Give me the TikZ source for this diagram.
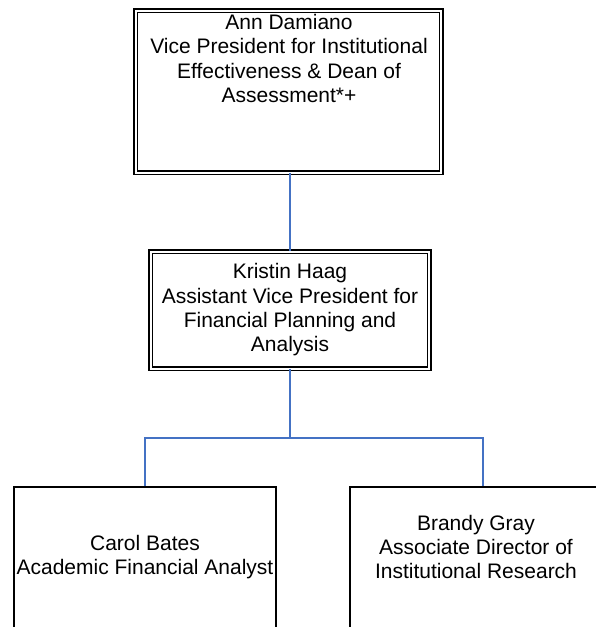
\documentclass[tikz,border=0pt]{standalone}
\usepackage{fontspec}
\setmainfont{Liberation Sans}
\definecolor{linkblue}{HTML}{4472C4}
\begin{document}
\begin{tikzpicture}[x=1pt,y=-1pt,
  dbox/.style={draw=black, line width=1.5pt, double=white, double distance=2pt, inner sep=0pt, minimum width=#1},
  sbox/.style={draw=black, line width=2pt, inner sep=0pt},
  lbl/.style={align=center, inner sep=0pt, font=\fontsize{21}{24.3}\selectfont},
  link/.style={draw=linkblue, line width=1.3pt}]
\useasboundingbox (0,0) rectangle (596,627);
\clip (0,0) rectangle (596,627);
\fill[white] (0,0) rectangle (596,627);
% boxes
\node[dbox=305.5pt, minimum height=162pt] (top) at (288.5,91.5) {};
\node[dbox=278.5pt, minimum height=117pt] (mid) at (290,310) {};
\node[sbox, minimum width=262pt, minimum height=173pt] (left) at (145,573.5) {};
\node[sbox, minimum width=266pt, minimum height=173pt] (right) at (483,573.5) {};
% texts
\node[lbl] (toptext) at (289,58.5) {Ann Damiano\\Vice President for Institutional\\Effectiveness \& Dean of\\Assessment*+};
\node[lbl] (midtext) at (290,310) {Kristin Haag\\Assistant Vice President for\\Financial Planning and\\Analysis};
\node[lbl] (lefttext) at (145,557) {Carol Bates\\Academic Financial Analyst};
\node[lbl] (righttext) at (476,547) {Brandy Gray\\Associate Director of\\Institutional Research};
% connectors
\coordinate (j) at (290,438);
\draw[link] (mid.north |- top.south) -- (mid.north);
\draw[link] (mid.south) -- (j);
\draw[link] (left.north) |- (j) -| (right.north);
\end{tikzpicture}
\end{document}
